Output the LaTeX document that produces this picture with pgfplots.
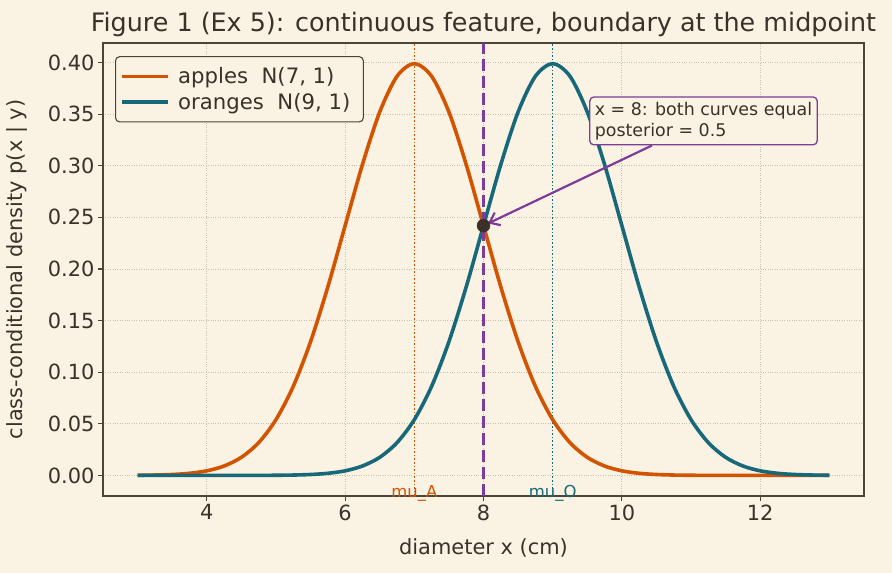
\documentclass[border=0pt]{standalone}
\usepackage{pgfplots}
\pgfplotsset{compat=1.18}
\usepackage{pgfplotstable}
\usepackage{fontspec}
\setmainfont{DejaVu Sans}
\usetikzlibrary{arrows.meta}

\definecolor{bg}{HTML}{FAF3E3}
\definecolor{ink}{HTML}{3B3129}
\definecolor{frame}{HTML}{4D4339}
\definecolor{applec}{HTML}{D35400}
\definecolor{orangec}{HTML}{17697A}
\definecolor{bound}{HTML}{7D3C98}
\definecolor{gridc}{HTML}{C8BFAE}

% class-conditional densities: apples N(7,1), oranges N(9,1)
\pgfplotstableread{
x      apples     oranges
3.00   0.000134   0.000000
3.25   0.000353   0.000000
3.50   0.000873   0.000000
3.75   0.002029   0.000000
4.00   0.004432   0.000002
4.25   0.009094   0.000005
4.50   0.017528   0.000016
4.75   0.031740   0.000048
5.00   0.053991   0.000134
5.25   0.086277   0.000353
5.50   0.129518   0.000873
5.75   0.182649   0.002029
6.00   0.241971   0.004432
6.25   0.301137   0.009094
6.50   0.352065   0.017528
6.75   0.386668   0.031740
7.00   0.398942   0.053991
7.25   0.386668   0.086277
7.50   0.352065   0.129518
7.75   0.301137   0.182649
8.00   0.241971   0.241971
8.25   0.182649   0.301137
8.50   0.129518   0.352065
8.75   0.086277   0.386668
9.00   0.053991   0.398942
9.25   0.031740   0.386668
9.50   0.017528   0.352065
9.75   0.009094   0.301137
10.00  0.004432   0.241971
10.25  0.002029   0.182649
10.50  0.000873   0.129518
10.75  0.000353   0.086277
11.00  0.000134   0.053991
11.25  0.000048   0.031740
11.50  0.000016   0.017528
11.75  0.000005   0.009094
12.00  0.000002   0.004432
12.25  0.000000   0.002029
12.50  0.000000   0.000873
12.75  0.000000   0.000353
13.00  0.000000   0.000134
}\densities

\begin{document}
\begin{tikzpicture}
\fill[bg] (0,0) rectangle (892bp,573bp);
\begin{axis}[
  at={(103bp,77bp)}, anchor=south west,
  scale only axis, width=761bp, height=453bp,
  xmin=2.5, xmax=13.5, ymin=-0.01995, ymax=0.4189,
  clip=false,
  axis background/.style={fill=bg},
  axis line style={frame, line width=1.1bp},
  xtick={4,6,8,10,12},
  ytick={0,0.05,0.10,0.15,0.20,0.25,0.30,0.35,0.40},
  xtick pos=lower, ytick pos=left,
  tick align=outside, major tick length=5bp,
  every tick/.style={frame, line width=1.1bp},
  grid=major, major grid style={gridc, dotted, line width=0.9bp},
  /pgf/number format/assume math mode=true,
  ticklabel style={font=\fontsize{21}{25}\selectfont, text=ink},
  yticklabel style={/pgf/number format/.cd, fixed, fixed zerofill, precision=2},
  xticklabel style={/pgf/number format/.cd, fixed, precision=0},
  title={Figure 1 (Ex 5): continuous feature, boundary at the midpoint},
  every axis title/.style={at={(axis description cs:0.5,1)}, anchor=base,
    yshift=11bp, font=\fontsize{25.5}{30}\selectfont, text=ink},
  xlabel={diameter x (cm)},
  ylabel={class-conditional density p(x | y)},
  every axis x label/.style={at={(axis description cs:0.5,0)}, anchor=base,
    yshift=-58bp, font=\fontsize{21}{25}\selectfont, text=ink},
  every axis y label/.style={at={(axis description cs:0,0.5)}, xshift=-80bp,
    rotate=90, anchor=base, font=\fontsize{21}{25}\selectfont, text=ink},
  legend cell align=left,
  legend image code/.code={\draw[#1] (0bp,0bp) -- (46bp,0bp);},
  legend style={at={(0.0158,0.971)}, anchor=north west,
    draw=frame, fill=bg, line width=1.1bp, rounded corners=4bp,
    font=\fontsize{21.3}{25}\selectfont, text=ink,
    inner xsep=5bp, inner ysep=9bp, row sep=4bp,
    nodes={inner xsep=8bp}},
]
% guides at the two class means
\addplot[applec, line width=1.4bp, dash pattern=on 1.6bp off 2bp, forget plot]
  coordinates {(7,-0.01995) (7,0.4189)};
\addplot[orangec, line width=1.4bp, dash pattern=on 1.6bp off 2bp, forget plot]
  coordinates {(9,-0.01995) (9,0.4189)};

\addplot[applec, line width=3.6bp, smooth] table[x=x, y=apples] {\densities};
\addlegendentry{apples~~N(7, 1)}
\addplot[orangec, line width=3.6bp, smooth] table[x=x, y=oranges] {\densities};
\addlegendentry{oranges~~N(9, 1)}

% decision boundary at the midpoint
\addplot[bound, line width=3.2bp, dash pattern=on 12bp off 5bp, forget plot]
  coordinates {(8,-0.01995) (8,0.4189)};

\addplot[only marks, mark=*, mark size=6.5bp, ink, forget plot]
  coordinates {(8,0.241971)};

\node[applec, anchor=base, yshift=-1.5bp, font=\fontsize{16.5}{20}\selectfont]
  at (axis cs:7,-0.01995) {mu\char"5F A};
\node[orangec, anchor=base, yshift=-1.5bp, font=\fontsize{16.5}{20}\selectfont]
  at (axis cs:9,-0.01995) {mu\char"5F O};

\node[draw=bound, fill=bg, line width=1.3bp, rounded corners=4bp,
      align=left, inner sep=5bp, text=ink,
      font=\fontsize{17.5}{21}\selectfont] (note)
  at (axis cs:11.18,0.3434)
  {x = 8: both curves equal\\posterior = 0.5};
\draw[bound, line width=2.2bp, -{Straight Barb[length=9bp, width=14bp]},
      shorten >=5bp] (note) -- (axis cs:8,0.241971);
\end{axis}
\end{tikzpicture}
\end{document}
